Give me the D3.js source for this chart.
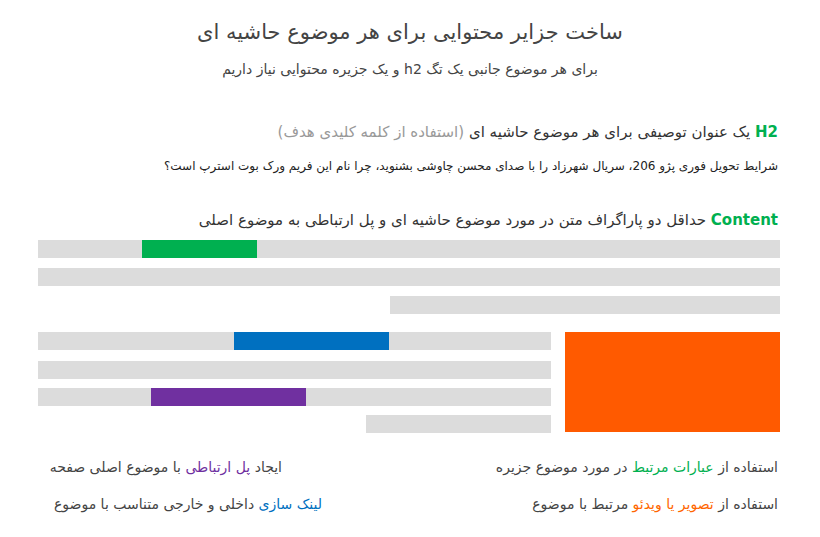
<!DOCTYPE html>
<html><head><meta charset="utf-8">
<script src="https://cdn.jsdelivr.net/npm/d3@7"></script>
<style>body{margin:0;background:#fff}text{font-family:"DejaVu Sans",sans-serif}</style>
</head><body><div id="chart"></div>
<script>
// gray placeholder lines: [start, end, top] in layout units
const grayBars = [[0,742,240],[0,742,268],[352,742,296],[0,513,332],[0,513,361],[0,513,388],[328,513,415]];
const accentBars = [[104,219,240,"#00b050"],[196,351,332,"#0070c0"],[113,268,388,"#7030a0"]];
const mediaBox = [527,742,332,432];
const notes = [
  {x:778,y:472,parts:[["استفاده از ","#444"],["عبارات مرتبط","#00b050"],[" در مورد موضوع جزیره","#444"]]},
  {x:778,y:509,parts:[["استفاده از ","#444"],["تصویر یا ویدئو","#ff6600"],[" مرتبط با موضوع","#444"]]},
  {x:282,y:472,parts:[["ایجاد ","#444"],["پل ارتباطی","#7030a0"],[" با موضوع اصلی صفحه","#444"]]},
  {x:322,y:509,parts:[["لینک سازی","#0070c0"],[" داخلی و خارجی متناسب با موضوع","#444"]]}
];

const svg = d3.select("#chart").append("svg").attr("width",820).attr("height",537);
const x = d3.scaleLinear().domain([0,742]).range([38,780]);
const y = d3.scaleLinear().domain([0,537]).range([0,537]);
const barH = 18;

svg.selectAll("rect.g").data(grayBars).join("rect").attr("class","g")
  .attr("x",d=>x(d[0])).attr("width",d=>x(d[1])-x(d[0]))
  .attr("y",d=>y(d[2])).attr("height",barH).attr("fill","#dcdcdc");
svg.selectAll("rect.a").data(accentBars).join("rect").attr("class","a")
  .attr("x",d=>x(d[0])).attr("width",d=>x(d[1])-x(d[0]))
  .attr("y",d=>y(d[2])).attr("height",barH).attr("fill",d=>d[3]);
svg.append("rect").attr("x",x(mediaBox[0])).attr("width",x(mediaBox[1])-x(mediaBox[0]))
  .attr("y",y(mediaBox[2])).attr("height",y(mediaBox[3])-y(mediaBox[2])).attr("fill","#ff5a00");

function rtl(xp, yp, size, parts) {
  const t = svg.append("text").attr("x",xp).attr("y",yp).attr("direction","rtl")
    .attr("text-anchor","start").attr("font-size",size);
  parts.forEach(p => t.append("tspan").attr("fill",p[1]).attr("font-weight",p[2]||null).text(p[0]));
  return t;
}
svg.append("text").attr("x",410).attr("y",39).attr("text-anchor","middle").attr("font-size",21)
  .attr("fill","#444").text("ساخت جزایر محتوایی برای هر موضوع حاشیه ای");
svg.append("text").attr("x",410).attr("y",74).attr("text-anchor","middle").attr("font-size",14)
  .attr("fill","#444").attr("direction","rtl").text("برای هر موضوع جانبی یک تگ h2 و یک جزیره محتوایی نیاز داریم");

rtl(778,137,15,[["H2","#00b050","bold"],[" یک عنوان توصیفی برای هر موضوع حاشیه ای ","#333"],["(استفاده از کلمه کلیدی هدف)","#999"]]);
rtl(778,170,12,[["شرایط تحویل فوری پژو 206، سریال شهرزاد را با صدای محسن چاوشی بشنوید، چرا نام این فریم ورک بوت استرپ است؟","#222"]]);
rtl(778,225,15,[["Content","#00b050","bold"],[" حداقل دو پاراگراف متن در مورد موضوع حاشیه ای و پل ارتباطی به موضوع اصلی","#333"]]);
notes.forEach(n => rtl(n.x, n.y, 14, n.parts));
</script></body></html>
